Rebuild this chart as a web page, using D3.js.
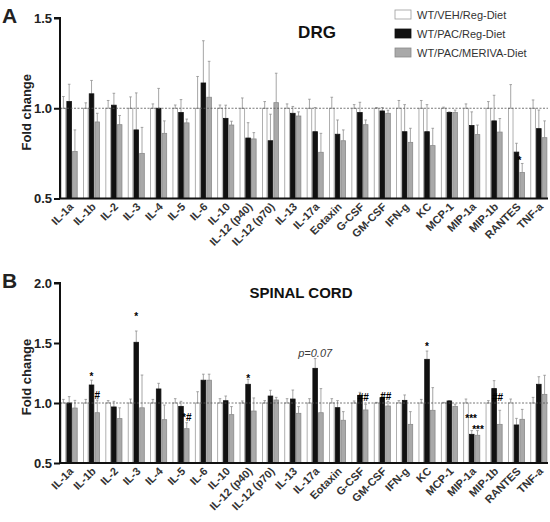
<!DOCTYPE html>
<html>
<head>
<meta charset="utf-8">
<script src="https://cdn.jsdelivr.net/npm/d3@7"></script>
<style>
  body { margin: 0; background: #fff; }
  svg { font-family: "Liberation Sans", Arial, sans-serif; }
</style>
</head>
<body>
<div class="main"></div>
<script>
// Données
const categories = ['IL-1a', 'IL-1b', 'IL-2', 'IL-3', 'IL-4', 'IL-5', 'IL-6', 'IL-10', 'IL-12 (p40)', 'IL-12 (p70)',
  'IL-13', 'IL-17a', 'Eotaxin', 'G-CSF', 'GM-CSF', 'IFN-g', 'KC', 'MCP-1', 'MIP-1a', 'MIP-1b', 'RANTES', 'TNF-a'];
const groups = ['WT/VEH/Reg-Diet', 'WT/PAC/Reg-Diet', 'WT/PAC/MERIVA-Diet'];

// DRG
const drgVeh = [1, 1, 1, 1, 1, 1, 1, 1, 1, 1, 1, 1, 1, 1, 1, 1, 1, 1, 1, 1, 1, 1];
const drgVehErr = [.065, .03, .043, .063, .024, .018, .176, .018, .057, .037, .024, .05, .061, .02, .004, .043, .043, .006, .024, .037, .131, .046];
const drgPac = [1.037, 1.08, 1.017, 0.88, 1.0, 0.976, 1.14, 0.944, 0.835, 0.82, 0.972, 0.87, 0.856, 0.976, 0.985, 0.87, 0.87, 0.976, 0.904, 0.93, 0.757, 0.887];
const drgPacErr = [.096, .074, .066, .205, .11, .072, .234, .073, .085, .147, .038, .134, .079, .057, .019, .15, .15, .004, .076, .142, .049, .103];
const drgMeriva = [0.76, 0.924, 0.909, 0.75, 0.861, 0.919, 1.061, 0.907, 0.83, 1.031, 0.957, 0.756, 0.82, 0.909, 0.972, 0.811, 0.793, 0.976, 0.854, 0.868, 0.644, 0.837];
const drgMerivaErr = [.12, .048, .051, .144, .069, .021, .199, .021, .035, .163, .023, .105, .06, .026, .017, .078, .096, .014, .053, .075, .05, .093];

// Moelle épinière
const scVeh = [1, 1, 1, 1, 1, 1, 1, 1, 1, 1, 1, 1, 1, 1, 1, 1, 1, 1, 1, 1, 1, 1];
const scVehErr = [.03, .03, .02, .033, .03, .036, .094, .036, .017, .02, .036, .036, .036, .017, .005, .02, .03, .005, .033, .02, .033, .047];
const scPac = [1.0, 1.15, 0.967, 1.506, 1.117, 0.972, 1.19, 1.019, 1.156, 1.058, 1.033, 1.289, 0.961, 1.064, 1.044, 1.022, 1.364, 1.017, 0.739, 1.12, 0.817, 1.156];
const scPacErr = [.053, .04, .047, .094, .047, .042, .05, .039, .041, .048, .075, .081, .059, .025, .028, .045, .069, .003, .031, .066, .055, .063];
const scMeriva = [0.958, 0.919, 0.87, 0.96, 0.861, 0.786, 1.19, 0.903, 0.933, 1.025, 0.914, 0.919, 0.856, 0.942, 0.975, 0.822, 0.939, 0.972, 0.731, 0.822, 0.864, 1.072];
const scMerivaErr = [.064, .106, .09, .273, .122, .05, .05, .067, .109, .022, .056, .201, .072, .047, .039, .106, .189, .018, .039, .117, .083, .159];

const drgTicks = [0.5, 1.0, 1.5];
const scTicks = [0.5, 1.0, 1.5, 2.0];

// Signes de significativité : catégorie, groupe, texte, niveau (fold change)
const drgMarks = [
  { cat: 'RANTES', group: 1.5, text: '*', at: 0.72 }
];
const scMarks = [
  { cat: 'IL-1b', group: 1, text: '*', at: 1.23 },
  { cat: 'IL-1b', group: 2, text: '#', at: 1.075 },
  { cat: 'IL-3', group: 1, text: '*', at: 1.73 },
  { cat: 'IL-5', group: 2, text: '*#', at: 0.89 },
  { cat: 'IL-12 (p40)', group: 1, text: '*', at: 1.22 },
  { cat: 'IL-17a', group: 1, text: 'p=0.07', at: 1.42, italic: true },
  { cat: 'G-CSF', group: 1.6, text: '##', at: 1.06 },
  { cat: 'GM-CSF', group: 1.6, text: '##', at: 1.07 },
  { cat: 'KC', group: 1, text: '*', at: 1.48 },
  { cat: 'MIP-1a', group: 0.9, text: '***', at: 0.885 },
  { cat: 'MIP-1a', group: 2.1, text: '***', at: 0.795 },
  { cat: 'MIP-1b', group: 1.6, text: '##', at: 1.06 }
];

const width = 550;
const height = 522;
const margin = { left: 60, right: 2 };

const svg = d3.select('.main')
  .append('svg')
  .attr('width', width)
  .attr('height', height);

const x = d3.scaleBand()
  .domain(categories)
  .range([margin.left, width - margin.right])
  .paddingInner(0.28)
  .paddingOuter(0.05);

const xs = d3.scaleBand()
  .domain([0, 1, 2])
  .range([0, x.bandwidth()])
  .paddingInner(0.2);

const fills = ['#ffffff', '#111111', '#a9a9a9'];
const strokes = ['#9c9c9c', '#111111', '#8a8a8a'];

function drawPanel(p) {
  const y = d3.scaleLinear().domain(p.domain).range([p.bottom, p.top]);
  const g = svg.append('g');

  const series = [p.veh, p.pac, p.meriva];
  const errs = [p.vehErr, p.pacErr, p.merivaErr];
  const rows = [];
  categories.forEach((c, i) => {
    series.forEach((s, k) => rows.push({ cat: c, k: k, v: s[i], e: errs[k][i] }));
  });

  // barres d'erreur (vers le haut seulement)
  const eb = g.append('g')
    .attr('stroke', '#8f8f8f')
    .attr('stroke-width', 0.8)
    .selectAll('g')
    .data(rows)
    .enter()
    .append('g')
    .attr('transform', d => `translate(${x(d.cat) + xs(d.k) + xs.bandwidth() / 2},0)`);
  eb.append('line')
    .attr('y1', d => y(d.v))
    .attr('y2', d => y(d.v + d.e));
  eb.append('line')
    .attr('x1', -1.3).attr('x2', 1.3)
    .attr('y1', d => y(d.v + d.e))
    .attr('y2', d => y(d.v + d.e));

  // barres
  g.append('g')
    .selectAll('rect')
    .data(rows)
    .enter()
    .append('rect')
    .attr('x', d => x(d.cat) + xs(d.k))
    .attr('width', xs.bandwidth())
    .attr('y', d => y(d.v))
    .attr('height', d => y(p.domain[0]) - y(d.v))
    .attr('fill', d => fills[d.k])
    .attr('stroke', d => strokes[d.k])
    .attr('stroke-width', 0.8);

  // ligne de référence à 1.0
  g.append('line')
    .attr('x1', margin.left).attr('x2', width - margin.right)
    .attr('y1', y(1)).attr('y2', y(1))
    .attr('stroke', '#555')
    .attr('stroke-width', 0.8)
    .attr('stroke-dasharray', '2,1.5');

  // axe vertical
  g.append('g')
    .attr('transform', `translate(${margin.left},0)`)
    .call(d3.axisLeft(y).tickValues(p.ticks).tickFormat(d3.format('.1f')).tickSize(6).tickPadding(2))
    .call(a => a.selectAll('path, line').attr('stroke', '#111').attr('stroke-width', 2))
    .call(a => a.select('.domain').attr('d', `M-6,${p.top}H0V${p.bottom}`))
    .call(a => a.selectAll('text')
      .attr('font-family', '"Liberation Sans", Arial, sans-serif')
      .attr('font-size', 13).attr('font-weight', 'bold').attr('fill', '#222'));

  // axe horizontal
  g.append('line')
    .attr('x1', margin.left - 1).attr('x2', width - margin.right)
    .attr('y1', p.bottom).attr('y2', p.bottom)
    .attr('stroke', '#111').attr('stroke-width', 2);

  g.append('g')
    .selectAll('text')
    .data(categories)
    .enter()
    .append('text')
    .attr('transform', d => `translate(${x(d) + x.bandwidth() / 2 + 5},${p.bottom + 9}) rotate(-45)`)
    .attr('text-anchor', 'end')
    .attr('font-size', 11)
    .attr('font-weight', 'bold')
    .attr('fill', '#333')
    .text(d => d);

  // titre de l'axe
  g.append('text')
    .attr('transform', `translate(31,${(p.top + p.bottom) / 2 + 4}) rotate(-90)`)
    .attr('text-anchor', 'middle')
    .attr('font-size', 13)
    .attr('font-weight', 'bold')
    .attr('fill', '#222')
    .text('Fold change');

  // lettre du panneau et titre
  g.append('text')
    .attr('x', 2).attr('y', p.letterY)
    .attr('font-size', 21).attr('font-weight', 'bold').attr('fill', '#222')
    .text(p.letter);
  g.append('text')
    .attr('x', p.titleX).attr('y', p.titleY)
    .attr('text-anchor', 'middle')
    .attr('font-size', p.titleSize).attr('font-weight', 'bold').attr('fill', '#111')
    .text(p.title);

  // significativité
  g.append('g')
    .selectAll('text')
    .data(p.marks)
    .enter()
    .append('text')
    .attr('x', d => x(d.cat) + xs(0) + xs.step() * d.group + xs.bandwidth() / 2)
    .attr('y', d => y(d.at) + (d.italic ? 4 : 5))
    .attr('text-anchor', 'middle')
    .attr('font-size', d => d.italic ? 11 : 10)
    .attr('font-style', d => d.italic ? 'italic' : 'normal')
    .attr('font-weight', d => d.italic ? 'normal' : 'bold')
    .attr('fill', d => d.italic ? '#3a3a3a' : '#000')
    .text(d => d.text);
}

drawPanel({
  domain: [0.5, 1.5], top: 18, bottom: 198.5, ticks: drgTicks,
  veh: drgVeh, vehErr: drgVehErr, pac: drgPac, pacErr: drgPacErr, meriva: drgMeriva, merivaErr: drgMerivaErr,
  letter: 'A', letterY: 23, title: 'DRG', titleX: 317, titleY: 38, titleSize: 17, marks: drgMarks
});

drawPanel({
  domain: [0.5, 2.0], top: 283, bottom: 463, ticks: scTicks,
  veh: scVeh, vehErr: scVehErr, pac: scPac, pacErr: scPacErr, meriva: scMeriva, merivaErr: scMerivaErr,
  letter: 'B', letterY: 288, title: 'SPINAL CORD', titleX: 301, titleY: 298, titleSize: 15, marks: scMarks
});

// Légende
const legend = svg.append('g')
  .selectAll('g')
  .data(groups)
  .enter()
  .append('g')
  .attr('transform', (d, i) => `translate(395,${10 + i * 19})`);
legend.append('rect')
  .attr('width', 16).attr('height', 9)
  .attr('fill', (d, i) => fills[i])
  .attr('stroke', (d, i) => strokes[i])
  .attr('stroke-width', 0.8);
legend.append('text')
  .attr('x', 22).attr('y', 8.5)
  .attr('font-size', 11)
  .attr('fill', '#333')
  .text(d => d);
</script>
</body>
</html>
